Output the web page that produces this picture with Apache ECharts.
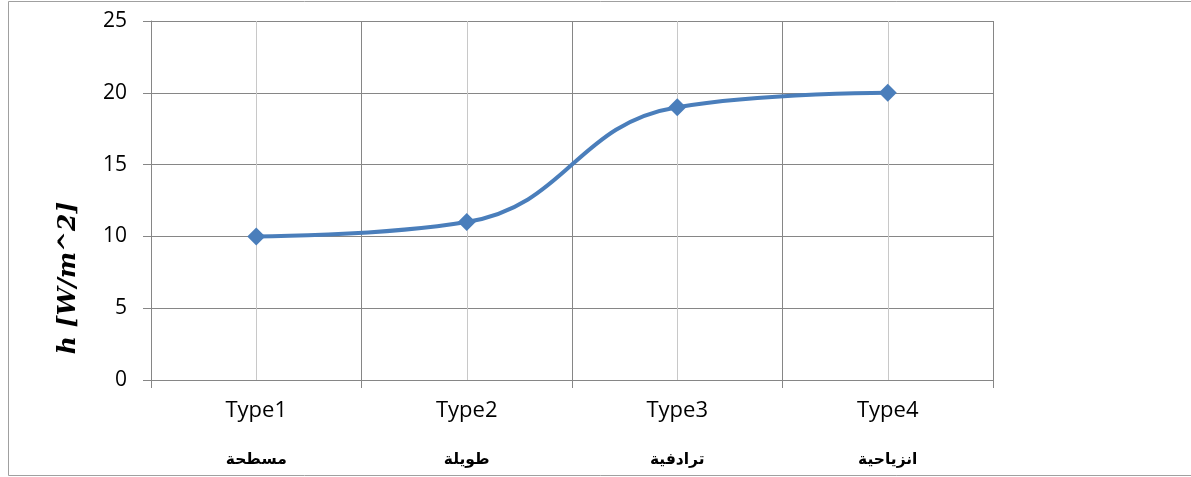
<!DOCTYPE html>
<html>
<head>
<meta charset="utf-8">
<script src="https://cdn.jsdelivr.net/npm/echarts@6/dist/echarts.min.js"></script>
<style>
  html, body { margin: 0; padding: 0; background: #fff; }
  #chart { width: 1191px; height: 477px; }
</style>
</head>
<body>
<div id="chart"></div>
<script>
// Heat transfer coefficient by configuration type
const typeNames = ['Type1', 'Type2', 'Type3', 'Type4'];
const arabicNames = ['مسطحة', 'طويلة', 'ترادفية', 'انزياحية'];
const hValues = [10, 11, 19, 20];
const yTicks = { min: 0, max: 25, step: 5 };
const yTitle = 'h [W/m^2]';

const chart = echarts.init(document.getElementById('chart'));

chart.setOption({
  animation: false,
  backgroundColor: '#fff',
  graphic: [{
    type: 'rect',
    shape: { x: 8.5, y: 1.5, width: 1200, height: 474 },
    style: { fill: 'none', stroke: '#a0a0a0', lineWidth: 1 },
    silent: true
  }, {
    // axis title, rotated to read bottom-to-top
    type: 'text',
    x: 68, y: 278,
    rotation: Math.PI / 2,
    style: {
      text: yTitle,
      fontFamily: 'DejaVu Serif', fontStyle: 'italic', fontWeight: 'bold', fontSize: 25,
      fill: '#000', align: 'center', verticalAlign: 'middle'
    },
    silent: true
  }],
  grid: { left: 151, right: 198, top: 21, bottom: 97 },
  xAxis: [{
    type: 'category',
    data: typeNames,
    boundaryGap: true,
    axisLine: { lineStyle: { color: '#868686', width: 1 } },
    axisTick: { show: true, length: 8, lineStyle: { color: '#868686' } },
    splitLine: { show: false },
    axisLabel: {
      margin: 2,
      formatter: function (v, i) {
        return '{t|' + v + '}\n{a|' + arabicNames[i] + '}';
      },
      rich: {
        t: { fontFamily: 'Open Sans', fontSize: 22, color: '#000', lineHeight: 58 },
        a: { fontFamily: 'DejaVu Sans', fontWeight: 'bold', fontSize: 15.5, color: '#000', lineHeight: 40 }
      }
    }
  }, {
    // half-category grid: boundaries darker, centres lighter
    type: 'value',
    min: 0, max: 8, interval: 1,
    position: 'top',
    axisLine: { show: false },
    axisTick: { show: false },
    axisLabel: { show: false },
    splitLine: { show: true, lineStyle: { color: ['#868686', '#c8c8c8'], width: 1 } }
  }],
  yAxis: {
    type: 'value',
    min: yTicks.min, max: yTicks.max, interval: yTicks.step,
    axisLine: { show: true, lineStyle: { color: '#868686' } },
    axisTick: { show: true, inside: false, length: 8, lineStyle: { color: '#868686' } },
    axisLabel: { margin: 24, fontFamily: 'Open Sans', fontSize: 21, color: '#000' },
    splitLine: { show: true, lineStyle: { color: '#868686', width: 1 } }
  },
  series: [{
    type: 'line',
    xAxisIndex: 0,
    data: hValues,
    smooth: 0.45,
    symbol: 'diamond',
    symbolSize: 18,
    lineStyle: { color: '#4a7ebb', width: 4 },
    itemStyle: { color: '#4a7ebb' }
  }]
});
</script>
</body>
</html>
